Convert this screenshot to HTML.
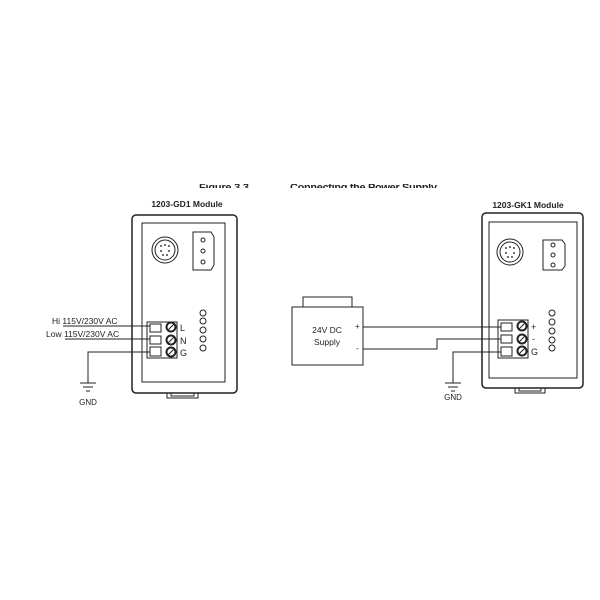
<!DOCTYPE html>
<html><head><style>body{margin:0;background:#fff}svg{display:block}text{font-family:"Liberation Sans",sans-serif;fill:#222}</style></head><body>
<svg width="600" height="600" viewBox="0 0 600 600" xmlns="http://www.w3.org/2000/svg">
<defs><clipPath id="c"><rect x="0" y="184" width="600" height="4"/></clipPath></defs>
<g clip-path="url(#c)"><text x="199" y="191" font-size="11" font-weight="bold" textLength="50">Figure 3.3</text><text x="290" y="191" font-size="11" font-weight="bold" textLength="147">Connecting the Power Supply</text></g>
<g fill="none" stroke="#222" stroke-width="1">
<rect x="132" y="215" width="105" height="178" rx="4" stroke-width="1.5"/>
<rect x="142" y="223" width="83" height="159"/>
<path d="M167 393 v5 h31 v-5"/><path d="M171 393 v3 h23 v-3"/>
<circle cx="165" cy="250" r="13"/><circle cx="165" cy="250" r="10"/>
<g fill="#444" stroke="none"><circle cx="161" cy="246" r="1"/><circle cx="165" cy="245" r="1"/><circle cx="169" cy="246" r="1"/><circle cx="161" cy="251" r="1"/><circle cx="169" cy="251" r="1"/><circle cx="163" cy="255" r="1"/><circle cx="167" cy="255" r="1"/></g>
<path d="M193 232 h18 l3 5 v28 l-3 5 h-18 z"/>
<circle cx="203" cy="240" r="2"/><circle cx="203" cy="251" r="2"/><circle cx="203" cy="262" r="2"/>
<rect x="147" y="322" width="30" height="36"/>
<rect x="150" y="324" width="11" height="8"/><rect x="150" y="336" width="11" height="8"/><rect x="150" y="347" width="11" height="9"/>
<circle cx="171" cy="327" r="4.5" stroke-width="2"/><circle cx="171" cy="340" r="4.5" stroke-width="2"/><circle cx="171" cy="352" r="4.5" stroke-width="2"/>
<path d="M168 330 l6 -6 M168 343 l6 -6 M168 355 l6 -6"/>
<circle cx="203" cy="313" r="3"/><circle cx="203" cy="321" r="3"/><circle cx="203" cy="330" r="3"/><circle cx="203" cy="339" r="3"/><circle cx="203" cy="348" r="3"/>
<path d="M63 326 H150 M65 339 H150 M150 352 H88 V383"/>
<path d="M80 383 h16 M83 387 h10 M86 391 h4"/>
<rect x="482" y="213" width="101" height="175" rx="4" stroke-width="1.5"/>
<rect x="489" y="222" width="88" height="156"/>
<path d="M515 388 v5 h30 v-5"/><path d="M519 388 v3 h22 v-3"/>
<circle cx="510" cy="252" r="13"/><circle cx="510" cy="252" r="10"/>
<g fill="#444" stroke="none"><circle cx="506" cy="248" r="1"/><circle cx="510" cy="247" r="1"/><circle cx="514" cy="248" r="1"/><circle cx="506" cy="253" r="1"/><circle cx="514" cy="253" r="1"/><circle cx="508" cy="257" r="1"/><circle cx="512" cy="257" r="1"/></g>
<path d="M543 240 h19 l3 4 v22 l-3 4 h-19 z"/>
<circle cx="553" cy="245" r="2"/><circle cx="553" cy="255" r="2"/><circle cx="553" cy="265" r="2"/>
<rect x="498" y="320" width="30" height="38"/>
<rect x="501" y="323" width="11" height="8"/><rect x="501" y="335" width="11" height="8"/><rect x="501" y="347" width="11" height="9"/>
<circle cx="522" cy="326" r="4.5" stroke-width="2"/><circle cx="522" cy="339" r="4.5" stroke-width="2"/><circle cx="522" cy="351" r="4.5" stroke-width="2"/>
<path d="M519 329 l6 -6 M519 342 l6 -6 M519 354 l6 -6"/>
<circle cx="552" cy="313" r="3"/><circle cx="552" cy="322" r="3"/><circle cx="552" cy="331" r="3"/><circle cx="552" cy="340" r="3"/><circle cx="552" cy="348" r="3"/>
<rect x="292" y="307" width="71" height="58"/>
<path d="M303 307 v-10 h49 v10"/>
<path d="M363 327 H501 M363 349 H437 V339 H501 M501 352 H453 V383"/>
<path d="M445 383 h16 M448 387 h10 M451 391 h4"/>
</g>
<g font-size="9">
<text x="187" y="207" text-anchor="middle" font-weight="bold" font-size="8.5">1203-GD1 Module</text>
<text x="528" y="208" text-anchor="middle" font-weight="bold" font-size="8.5">1203-GK1 Module</text>
<text x="52" y="324" font-size="8.5">Hi 115V/230V  AC</text>
<text x="46" y="337" font-size="8.5">Low 115V/230V AC</text>
<text x="180" y="331">L</text><text x="180" y="344">N</text><text x="180" y="356">G</text>
<text x="88" y="405" text-anchor="middle" font-size="8">GND</text>
<text x="453" y="400" text-anchor="middle" font-size="8">GND</text>
<text x="327" y="333" text-anchor="middle" font-size="8.5">24V DC</text>
<text x="327" y="345" text-anchor="middle" font-size="8.5">Supply</text>
<text x="355" y="329" font-size="8">+</text><text x="356" y="351" font-size="8">-</text>
<text x="531" y="330">+</text><text x="532" y="342">-</text><text x="531" y="355">G</text>
</g>
</svg>
</body></html>
